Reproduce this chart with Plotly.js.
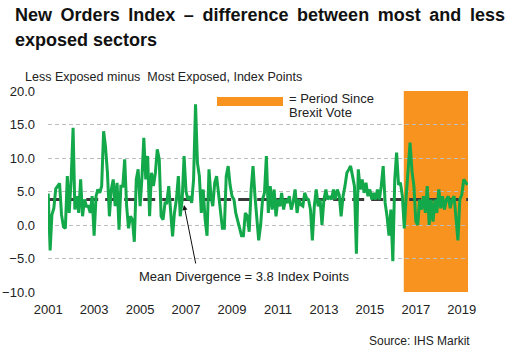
<!DOCTYPE html>
<html>
<head>
<meta charset="utf-8">
<script src="https://cdn.plot.ly/plotly-3.0.1.min.js"></script>
<style>html,body{margin:0;padding:0;background:#fff}#chart{width:513px;height:360px}</style>
</head>
<body>
<div id="chart"></div>
<script>
// ---- data ----
const startYear = 2001;
const startMonth = 1;
const divergence = [
  4.7,-3.8,1.5,2.5,5.4,5.9,6.2,1.5,-0.3,-0.5,7.3,1.8,
  6.8,14.5,2.3,4.3,1.8,6.8,1.3,3.8,2.8,2.8,1.8,4.3,
  -1.6,4.3,5.3,4.8,5.8,14.0,11.7,7.8,1.3,5.3,6.8,2.8,
  6.3,-0.7,5.8,5.8,9.8,2.8,-0.5,1.3,0.8,-2.5,6.8,8.3,
  2.8,7.3,13.0,6.8,10.3,1.3,7.8,5.8,7.8,11.3,9.8,1.3,
  0.8,3.3,3.3,5.8,1.8,-1.7,1.8,3.8,7.3,1.3,3.8,10.3,
  5.0,3.8,4.3,3.3,6.8,18.0,9.3,7.3,1.8,5.3,0.8,-1.6,
  8.3,4.3,2.8,6.3,7.3,4.3,1.5,-0.5,-0.5,7.3,8.8,6.0,
  4.3,3.8,1.8,0.5,-0.5,-1.6,-1.6,1.8,1.3,-1.0,5.3,8.8,
  4.3,1.0,-2.3,0.0,3.8,4.8,10.3,1.8,5.8,2.3,5.3,1.3,
  3.8,2.8,4.8,2.3,3.8,3.3,4.3,2.3,3.5,5.3,1.8,3.8,
  3.0,2.8,4.8,4.0,3.8,2.3,-2.3,2.8,5.3,2.8,3.8,0.0,
  3.8,5.3,3.8,4.3,3.8,5.3,3.8,5.3,4.5,1.3,4.3,5.8,
  7.8,8.3,8.8,7.3,5.8,-4.3,8.3,5.3,6.8,4.8,6.3,4.3,
  5.3,3.8,4.8,3.8,5.3,3.8,5.8,8.8,3.3,1.3,-1.6,2.3,
  -5.4,6.8,10.8,6.0,6.3,4.3,-0.5,4.3,9.3,12.3,8.0,5.8,
  0.5,0.0,3.8,2.3,4.3,1.8,5.8,0.0,3.8,0.5,3.8,1.8,
  5.3,2.5,4.3,2.3,3.8,4.3,2.5,3.8,4.3,1.3,-2.3,3.8,
  4.5,6.8,6.5,6.0
];
const meanDivergence = 3.8;
const brexitVote = '2016-06-23';
const yTicks = [-10, -5, 0, 5, 10, 15, 20];
const titleLines = ['New Orders Index – difference between most and less', 'exposed sectors'];

// ---- build month dates ----
const months = divergence.map((v, i) => {
  const t = (startMonth - 1) + i;
  const y = startYear + Math.floor(t / 12);
  const m = (t % 12) + 1;
  return y + '-' + String(m).padStart(2, '0') + '-01';
});
const xStart = '2000-12-29';
const xEnd = '2019-04-10';

const FONT = 'Liberation Sans, Arial, sans-serif';
const px = (x) => (x - 48) / 420;
const py = (y) => (292 - y) / 201;
// justified first title line: widen word gaps with thin spaces
const justify = (s) => s.split(' ').join(' \u2009');

const traces = [
  {
    x: [months[0], xEnd], y: [meanDivergence, meanDivergence],
    mode: 'lines', line: {color: '#3a3a3a', width: 3, dash: '12px,7px'},
    hoverinfo: 'skip', showlegend: false
  },
  {
    x: months, y: divergence, mode: 'lines',
    line: {color: '#13A84A', width: 3},
    showlegend: false
  }
];

const layout = {
  width: 513, height: 360,
  margin: {l: 48, r: 45, t: 91, b: 68},
  paper_bgcolor: '#fff', plot_bgcolor: 'rgba(0,0,0,0)',
  font: {family: FONT, size: 13, color: '#222'},
  xaxis: {
    type: 'date', range: [xStart, xEnd],
    tick0: '2001-01-01', dtick: 'M24', tickformat: '%Y',
    showgrid: false, zeroline: false, showline: false,
    ticks: '', ticklabelstandoff: 8,
    tickfont: {family: FONT, size: 13, color: '#222'}
  },
  xaxis2: {
    type: 'date', range: [xStart, xEnd], overlaying: 'x',
    anchor: 'free', position: 1/3,
    tick0: '2001-01-01', dtick: 'M24',
    showgrid: false, zeroline: false, showline: true,
    linecolor: '#8a8a8a', linewidth: 1,
    ticks: 'outside', ticklen: 4, tickcolor: '#8a8a8a',
    showticklabels: false
  },
  yaxis: {
    range: [-10, 20], tickvals: yTicks, tickformat: '.1f',
    showgrid: true, gridcolor: '#bdbdbd', griddash: '4px,3px', gridwidth: 1,
    zeroline: false, showline: false, ticks: '',
    ticklabelstandoff: 12,
    tickfont: {family: FONT, size: 13, color: '#222'}
  },
  shapes: [
    {type: 'rect', xref: 'x', yref: 'paper', x0: brexitVote, x1: xEnd, y0: 0, y1: 1,
     fillcolor: '#F7931E', line: {width: 0}, layer: 'below'},
    {type: 'rect', xref: 'paper', yref: 'paper',
     x0: px(217), x1: px(283), y0: py(106), y1: py(97),
     fillcolor: '#F7931E', line: {width: 0}}
  ],
  annotations: [
    {text: '<b>' + justify(titleLines[0]) + '</b>', xref: 'paper', yref: 'paper',
     x: px(13), y: py(15), xanchor: 'left', yanchor: 'middle', showarrow: false,
     font: {family: FONT, size: 18, color: '#111'}},
    {text: '<b>' + titleLines[1] + '</b>', xref: 'paper', yref: 'paper',
     x: px(13), y: py(40), xanchor: 'left', yanchor: 'middle', showarrow: false,
     font: {family: FONT, size: 18, color: '#111'}},
    {text: 'Less Exposed minus  Most Exposed, Index Points', xref: 'paper', yref: 'paper',
     x: px(23), y: py(76.5), xanchor: 'left', yanchor: 'middle', showarrow: false,
     font: {family: FONT, size: 12.5, color: '#222'}},
    {text: '= Period Since', xref: 'paper', yref: 'paper',
     x: px(287), y: py(98.5), xanchor: 'left', yanchor: 'middle', showarrow: false,
     font: {family: FONT, size: 13, color: '#222'}},
    {text: 'Brexit Vote', xref: 'paper', yref: 'paper',
     x: px(287), y: py(113), xanchor: 'left', yanchor: 'middle', showarrow: false,
     font: {family: FONT, size: 13, color: '#222'}},
    {text: 'Mean Divergence = 3.8 Index Points', xref: 'paper', yref: 'paper',
     x: px(244), y: py(276), xanchor: 'center', yanchor: 'middle', showarrow: false,
     font: {family: FONT, size: 13, color: '#222'}},
    {text: '', xref: 'paper', yref: 'paper',
     x: px(184), y: py(205),
     ax: 12, ay: 60, axref: 'pixel', ayref: 'pixel',
     showarrow: true, arrowhead: 2, arrowsize: 1, arrowwidth: 1, arrowcolor: '#111', standoff: 0},
    {text: 'Source: IHS Markit', xref: 'paper', yref: 'paper',
     x: px(472), y: py(341), xanchor: 'right', yanchor: 'middle', showarrow: false,
     font: {family: FONT, size: 12, color: '#222'}}
  ]
};

Plotly.newPlot('chart', traces, layout, {displayModeBar: false, staticPlot: true});
</script>
</body>
</html>
